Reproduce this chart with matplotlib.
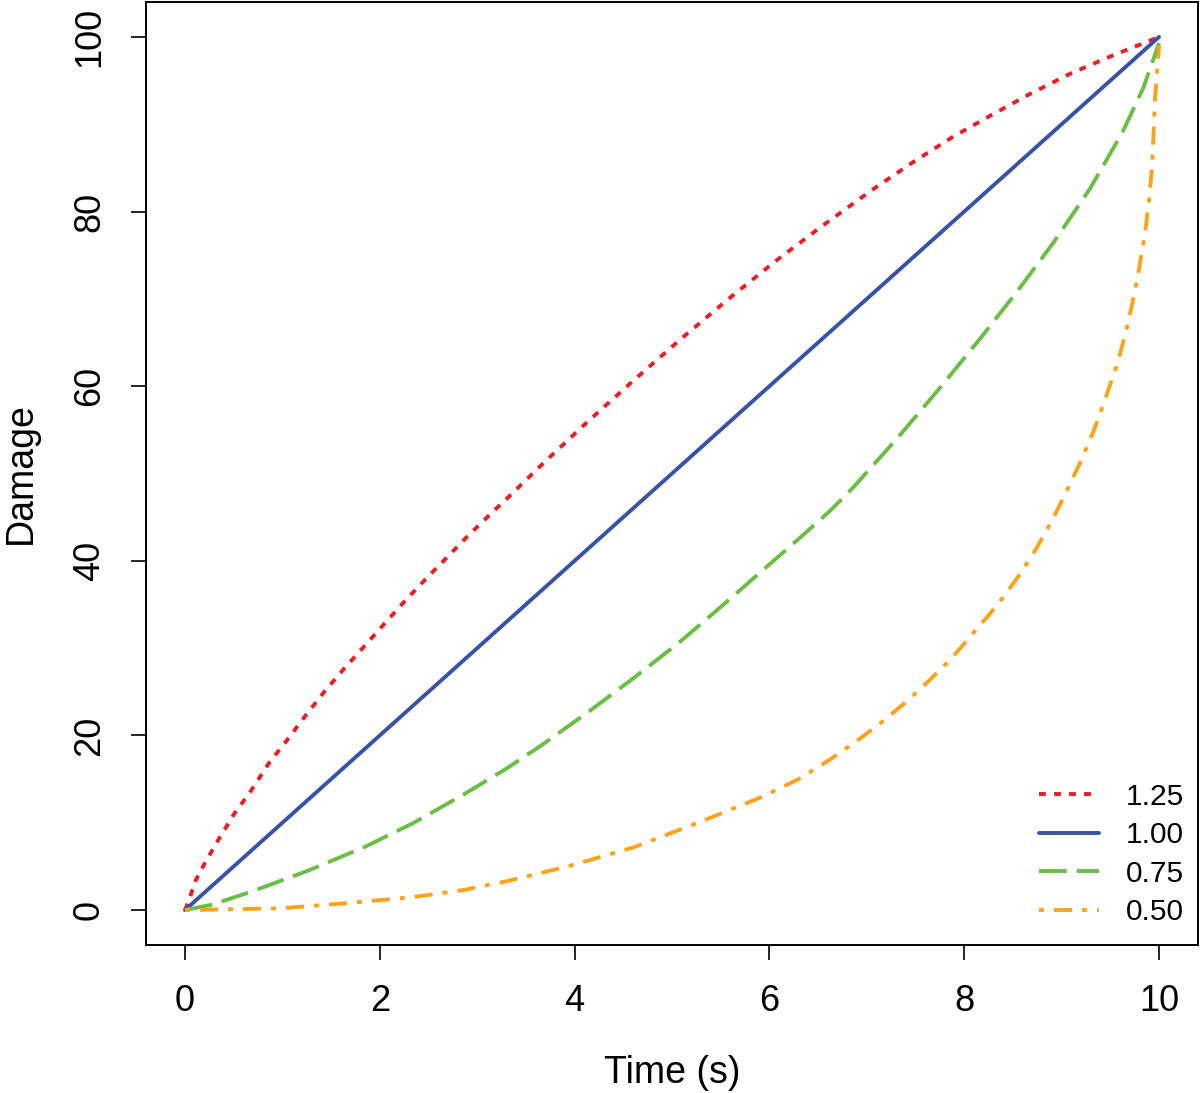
import matplotlib
matplotlib.use("Agg")
import matplotlib.pyplot as plt

plt.rcParams['font.family'] = ['Liberation Sans', 'DejaVu Sans']
plt.rcParams['lines.scale_dashes'] = False

# values
labels = ['1.25', '1.00', '0.75', '0.50']

t_125 = [0, 0.03, 0.11, 0.20, 0.34, 0.51, 0.68, 0.86, 1.05, 1.24, 1.43, 1.63, 1.84,
         2.04, 2.25, 2.47, 2.69, 2.90, 3.14, 3.33, 3.69, 4.15, 4.61, 5.09, 5.57, 6.06,
         6.56, 7.07, 7.48, 7.89, 8.27, 8.68, 9.09, 9.53, 10]
d_125 = [0, 0.8, 3.4, 5.3, 8.0, 11.1, 13.7, 16.8, 19.5, 22.3, 25.0, 27.6, 30.2,
         32.7, 35.3, 37.9, 40.4, 42.8, 45.4, 47.4, 51.3, 56.1, 60.7, 65.4, 69.9, 74.3,
         78.5, 82.6, 85.7, 88.6, 91.0, 93.5, 95.8, 97.9, 100]

t_100 = [0, 10]
d_100 = [0, 100]

t_075 = [0, 0.27, 0.68, 1.26, 1.84, 2.35, 2.87, 3.30, 3.65, 4.13, 4.61, 5.09, 5.53,
         5.98, 6.30, 6.63, 6.86, 7.31, 7.75, 8.16, 8.54, 8.92, 9.29, 9.63, 9.84, 9.96, 10]
d_075 = [0, 0.6, 2.1, 4.5, 7.2, 10.0, 13.3, 16.2, 18.8, 22.6, 26.6, 30.8, 35.0,
         39.4, 42.5, 45.8, 48.4, 54.0, 59.8, 65.4, 70.8, 76.5, 82.6, 89.2, 94.2, 98.0, 99.3]

t_050 = [0, 0.98, 1.67, 2.35, 2.86, 3.30, 3.93, 4.61, 5.29, 5.91, 6.30, 6.63, 6.90,
         7.14, 7.40, 7.65, 7.86, 8.06, 8.23, 8.40, 8.58, 8.75, 8.91, 9.07, 9.20, 9.33,
         9.45, 9.57, 9.66, 9.74, 9.80, 9.86, 9.90, 9.93, 9.96, 10]
d_050 = [0, 0.2, 0.8, 1.5, 2.3, 3.3, 5.0, 7.2, 10.1, 12.9, 15.0, 17.3, 19.4,
         21.4, 23.8, 26.4, 28.7, 31.3, 33.5, 35.8, 38.6, 41.6, 44.8, 48.4, 51.5, 54.9,
         58.6, 62.5, 66.2, 70.2, 73.8, 77.8, 81.6, 85.4, 93.1, 99.0]

colors = ['#ED1C24', '#3953A4', '#6ABD45', '#FAA31B']
styles = [(0, (5.0, 5.8)), '-', (0, (20, 7.2)), (0, (3.6, 7.2, 13, 7.2))]
series = [(t_125, d_125), (t_100, d_100), (t_075, d_075), (t_050, d_050)]

fig = plt.figure(figsize=(12, 10.93), dpi=100)
ax = fig.add_axes([146 / 1200, 1 - 945 / 1093, 1052 / 1200, 943 / 1093])

for (t, d), c, ls, lab in zip(series, colors, styles, labels):
    ax.plot(t, d, color=c, linestyle=ls, linewidth=2.8, label=lab,
            dash_capstyle='butt', solid_capstyle='round')

ax.set_xlim(-0.4, 10.4)
ax.set_ylim(-4, 104)
ax.set_xticks([0, 2, 4, 6, 8, 10])
ax.set_yticks([0, 20, 40, 60, 80, 100])
ax.tick_params(direction='out', length=11, width=1.2, labelsize=26, pad=17)
for lbl in ax.get_yticklabels():
    lbl.set_rotation(90)
    lbl.set_va('center')
for s in ax.spines.values():
    s.set_linewidth(1.4)

ax.set_xlabel('Time (s)', fontsize=27, labelpad=26)
ax.set_ylabel('Damage', fontsize=27, labelpad=24)

ax.legend(loc='lower right', bbox_to_anchor=(0.9867, 0.020), frameon=False,
          fontsize=21.5, handlelength=2.0, handletextpad=0.9, labelspacing=0.35,
          borderpad=0, borderaxespad=0)

fig.savefig('out.png', dpi=100)
